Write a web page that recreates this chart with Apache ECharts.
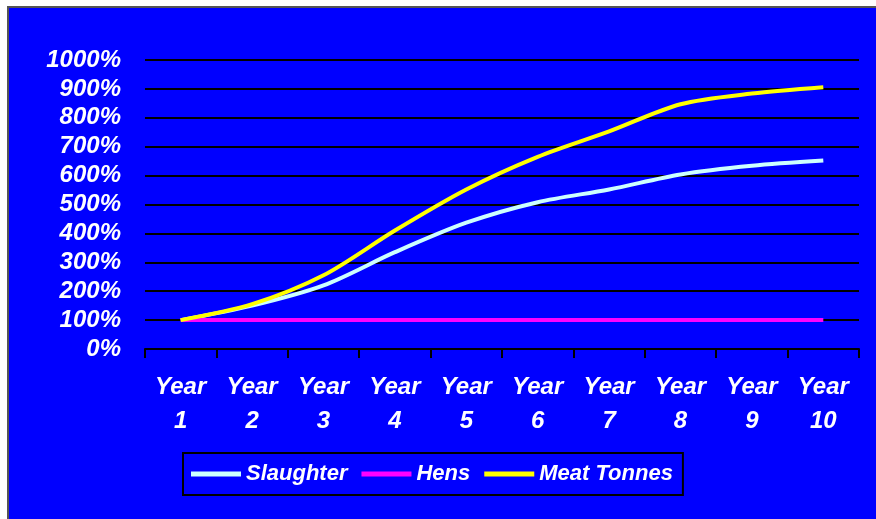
<!DOCTYPE html>
<html>
<head>
<meta charset="utf-8">
<script src="https://cdn.jsdelivr.net/npm/echarts@6/dist/echarts.min.js"></script>
<style>
html,body{margin:0;padding:0;background:#fff;}
#chart{width:876px;height:519px;}
</style>
</head>
<body>
<div id="chart"></div>
<script>
const categories = ['Year\n1','Year\n2','Year\n3','Year\n4','Year\n5','Year\n6','Year\n7','Year\n8','Year\n9','Year\n10'];
const slaughter = [100, 150, 220, 335, 437, 508, 552, 604, 634, 652];
const hens = [100, 100, 100, 100, 100, 100, 100, 100, 100, 100];
const meatTonnes = [100, 155, 255, 410, 552, 665, 753, 847, 884, 906];
const yTicks = {min: 0, max: 1000, interval: 100};

const font = 'Liberation Sans, Arial, sans-serif';
const chart = echarts.init(document.getElementById('chart'));
chart.setOption({
  animation: false,
  backgroundColor: '#ffffff',
  graphic: [{
    type: 'rect', z: -10, silent: true,
    shape: {x: 8, y: 7, width: 900, height: 600},
    style: {fill: '#0000FF', stroke: '#555555', lineWidth: 2}
  }],
  grid: {left: 145, right: 17, top: 60, bottom: 170},
  legend: {
    left: 183, top: 453,
    padding: [10, 10, 10, 8],
    itemGap: 14,
    itemWidth: 50, itemHeight: 5,
    icon: 'rect',
    borderColor: '#000000', borderWidth: 2,
    textStyle: {color: '#ffffff', fontSize: 22, fontWeight: 'bold', fontStyle: 'italic', fontFamily: font},
    data: ['Slaughter', 'Hens', 'Meat Tonnes']
  },
  xAxis: {
    type: 'category',
    data: categories,
    boundaryGap: true,
    axisLine: {lineStyle: {color: '#000000', width: 2}},
    axisTick: {show: true, length: 9, lineStyle: {color: '#000000', width: 2}},
    axisLabel: {color: '#ffffff', fontSize: 24, fontWeight: 'bold', fontStyle: 'italic', fontFamily: font, lineHeight: 34, margin: 21, interval: 0}
  },
  yAxis: {
    type: 'value',
    min: yTicks.min, max: yTicks.max, interval: yTicks.interval,
    axisLine: {show: false},
    axisTick: {show: false},
    splitLine: {lineStyle: {color: '#000000', width: 2}},
    axisLabel: {color: '#ffffff', fontSize: 24, fontWeight: 'bold', fontStyle: 'italic', fontFamily: font, margin: 24,
      formatter: function (v) { return String(v) + '%'; }}
  },
  series: [
    {name: 'Slaughter', type: 'line', data: slaughter, smooth: 0.3, showSymbol: false, symbol: 'none',
     lineStyle: {color: '#CCFFFF', width: 4}, itemStyle: {color: '#CCFFFF'}},
    {name: 'Hens', type: 'line', data: hens, smooth: 0.3, showSymbol: false, symbol: 'none',
     lineStyle: {color: '#FF00FF', width: 4}, itemStyle: {color: '#FF00FF'}},
    {name: 'Meat Tonnes', type: 'line', data: meatTonnes, smooth: 0.3, showSymbol: false, symbol: 'none',
     lineStyle: {color: '#FFFF00', width: 4}, itemStyle: {color: '#FFFF00'}}
  ]
});
</script>
</body>
</html>
